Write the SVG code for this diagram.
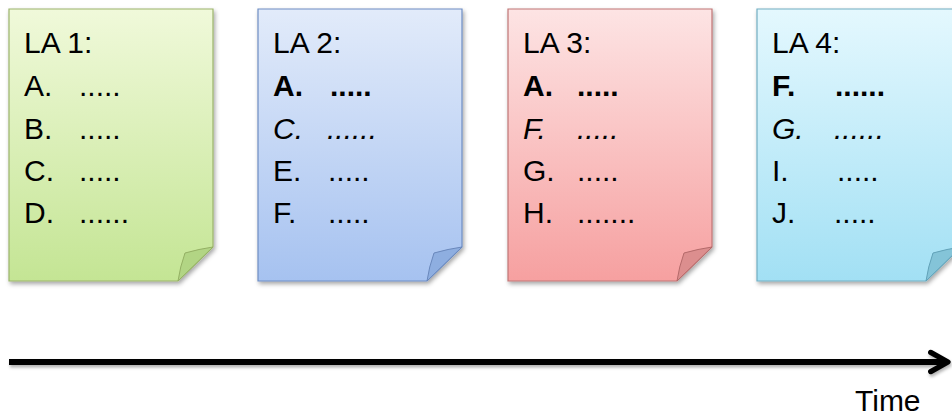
<svg xmlns="http://www.w3.org/2000/svg" width="952" height="416" viewBox="0 0 952 416">
  <defs>
    <linearGradient id="gGreen" x1="0" y1="0" x2="0" y2="1">
      <stop offset="0" stop-color="#f0f9da"/>
      <stop offset="1" stop-color="#c4e594"/>
    </linearGradient>
    <linearGradient id="gBlue" x1="0" y1="0" x2="0" y2="1">
      <stop offset="0" stop-color="#e2ebfa"/>
      <stop offset="1" stop-color="#a6c2f0"/>
    </linearGradient>
    <linearGradient id="gRed" x1="0" y1="0" x2="0" y2="1">
      <stop offset="0" stop-color="#fde4e4"/>
      <stop offset="1" stop-color="#f6a0a0"/>
    </linearGradient>
    <linearGradient id="gCyan" x1="0" y1="0" x2="0" y2="1">
      <stop offset="0" stop-color="#e4f8fe"/>
      <stop offset="1" stop-color="#a2e0f4"/>
    </linearGradient>
    <filter id="shadow" x="-10%" y="-10%" width="130%" height="130%">
      <feDropShadow dx="1.5" dy="2.5" stdDeviation="2" flood-color="#000" flood-opacity="0.35"/>
    </filter>
    <!-- the time line has no height, so its shadow region is set in user space -->
    <filter id="lineShadow" filterUnits="userSpaceOnUse" x="0" y="330" width="952" height="60">
      <feDropShadow dx="1" dy="2.5" stdDeviation="1.8" flood-color="#000" flood-opacity="0.3"/>
    </filter>
    <!-- note outline: page with bottom-right corner cut off -->
    <path id="page" d="M0,0 H204 V238 L169,272 H0 Z"/>
    <path id="fold" d="M204,238 Q190,240 176,244 Q171,258 169,272 Z"/>
    <marker id="chevron" viewBox="0 0 10 10" refX="8.4" refY="5" markerWidth="4" markerHeight="4.6" orient="auto" markerUnits="strokeWidth">
      <path d="M1.2,1 L8.4,5 L1.2,9" fill="none" stroke="#000" stroke-width="2.2" stroke-linecap="round" stroke-linejoin="round"/>
    </marker>
  </defs>
  <style>
    .txt { font-family: "Liberation Sans", Arial, sans-serif; font-size: 30px; fill: #000; }
    .b { font-weight: bold; }
    .i { font-style: italic; }
    .note { filter: url(#shadow); }
  </style>

  <g id="note-la1" transform="translate(9,9)">
    <use href="#page" class="note" fill="url(#gGreen)" stroke="#9cb46c" stroke-width="1.2"/>
    <use href="#fold" fill="#b2d584" stroke="#94b064" stroke-width="1"/>
    <text class="txt" x="15" y="44">LA 1:</text>
    <text class="txt" x="15" y="87">A.</text><text class="txt" x="70" y="87">.....</text>
    <text class="txt" x="15" y="130">B.</text><text class="txt" x="70" y="130">.....</text>
    <text class="txt" x="15" y="172">C.</text><text class="txt" x="70" y="172">.....</text>
    <text class="txt" x="15" y="214">D.</text><text class="txt" x="70" y="214">......</text>
  </g>

  <g id="note-la2" transform="translate(258,9)">
    <use href="#page" class="note" fill="url(#gBlue)" stroke="#6e8ec4" stroke-width="1.2"/>
    <use href="#fold" fill="#8eaee0" stroke="#6a88bc" stroke-width="1"/>
    <text class="txt" x="15" y="44">LA 2:</text>
    <text class="txt b" x="15" y="87">A.</text><text class="txt b" x="72" y="87">.....</text>
    <text class="txt i" x="15" y="130">C.</text><text class="txt i" x="69" y="130">......</text>
    <text class="txt" x="15" y="172">E.</text><text class="txt" x="70" y="172">.....</text>
    <text class="txt" x="15" y="214">F.</text><text class="txt" x="70" y="214">.....</text>
  </g>

  <g id="note-la3" transform="translate(508,9)">
    <use href="#page" class="note" fill="url(#gRed)" stroke="#c07676" stroke-width="1.2"/>
    <use href="#fold" fill="#dc8e8e" stroke="#b46a6a" stroke-width="1"/>
    <text class="txt" x="15" y="44">LA 3:</text>
    <text class="txt b" x="15" y="87">A.</text><text class="txt b" x="69" y="87">.....</text>
    <text class="txt i" x="15" y="130">F.</text><text class="txt i" x="69" y="130">.....</text>
    <text class="txt" x="15" y="172">G.</text><text class="txt" x="69" y="172">.....</text>
    <text class="txt" x="15" y="214">H.</text><text class="txt" x="69" y="214">.......</text>
  </g>

  <g id="note-la4" transform="translate(757,9)">
    <use href="#page" class="note" fill="url(#gCyan)" stroke="#72aec2" stroke-width="1.2"/>
    <use href="#fold" fill="#84c4d8" stroke="#62a2b8" stroke-width="1"/>
    <text class="txt" x="15" y="44">LA 4:</text>
    <text class="txt b" x="15" y="87">F.</text><text class="txt b" x="78" y="87">......</text>
    <text class="txt i" x="15" y="130">G.</text><text class="txt i" x="77" y="130">......</text>
    <text class="txt" x="15" y="172">I.</text><text class="txt" x="80" y="172">.....</text>
    <text class="txt" x="15" y="214">J.</text><text class="txt" x="77" y="214">.....</text>
  </g>

  <g id="connectors">
    <line x1="9" y1="362" x2="948" y2="362" stroke="#000" stroke-width="6" marker-end="url(#chevron)" filter="url(#lineShadow)"/>
  </g>

  <g id="label-time">
    <text class="txt" x="855" y="411">Time</text>
  </g>
</svg>
